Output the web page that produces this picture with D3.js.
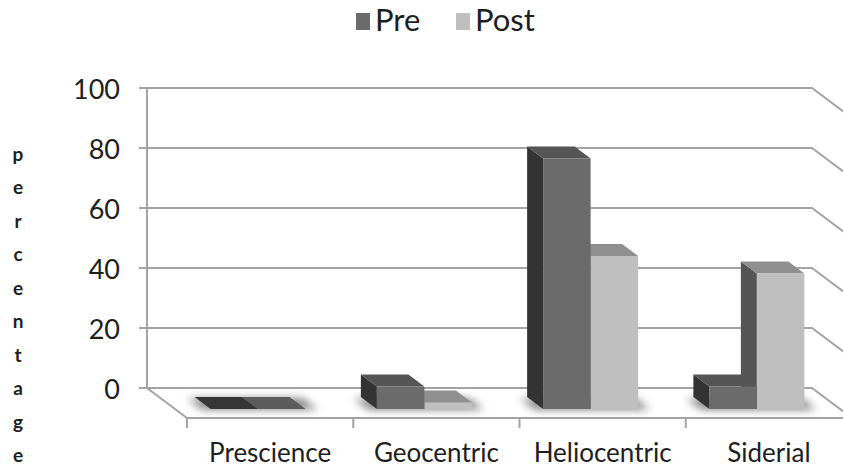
<!DOCTYPE html>
<html>
<head>
<meta charset="utf-8">
<script src="https://cdn.jsdelivr.net/npm/d3@7"></script>
<style>
  html, body { margin: 0; padding: 0; background: #fff; }
  svg { display: block; }
  text { font-family: Lato, "Open Sans", sans-serif; fill: #1e1e1e; }
</style>
</head>
<body>
<svg id="chart" width="843" height="469"></svg>
<script>
// Survey results, percent of respondents per model
const categories = ["Prescience", "Geocentric", "Heliocentric", "Siderial"];
const seriesNames = ["Pre", "Post"];
const preValues = [0, 7.5, 83.5, 7.5];
const postValues = [0, 2.2, 51, 45.2];
const yTicks = [0, 20, 40, 60, 80, 100];
const axisTitle = "percentage";

// Face shades for each series: front, top, left side, and the flat top of zero-height columns
const shades = {
  Pre:  { front: "#6b6b6b", top: "#555555", side: "#333333", flat: "#363636" },
  Post: { front: "#bfbfbf", top: "#8f8f8f", side: "#555555", flat: "#5c5c5c" }
};

const svg = d3.select("#chart");

// Back-wall scales
const x = d3.scaleBand().domain(categories).range([147, 812]).paddingInner(0).paddingOuter(0);
const y = d3.scaleLinear().domain([0, 100]).range([388, 88]);

// Oblique depth: z = 0 at the back wall, z = 1 at the front edge of the floor
const depthDX = 40, depthDY = 30;
const proj = (px, v, z) => [px + depthDX * z, y(v) + depthDY * z];

const gridColor = "#a3a3a3";

// Soft shadow filter for the floor
const defs = svg.append("defs");
defs.append("filter").attr("id", "soft").attr("x", "-30%").attr("y", "-100%")
  .attr("width", "160%").attr("height", "300%")
  .append("feGaussianBlur").attr("stdDeviation", 4);

// Walls: gridlines on the back wall continuing down the right wall
const grid = svg.append("g").attr("fill", "none").attr("stroke", gridColor).attr("stroke-width", 2);
yTicks.forEach(t => {
  const p0 = proj(x.range()[0], t, 0);
  const p1 = proj(x.range()[1], t, 0);
  const p2 = proj(x.range()[1], t, 1);
  grid.append("polyline").attr("points", [p0, p1, p2].map(p => p.join(",")).join(" "));
});

// Floor edges
const floor = svg.append("g").attr("fill", "none").attr("stroke", gridColor).attr("stroke-width", 2);
floor.append("polyline").attr("points", [proj(x.range()[0], 0, 0), proj(x.range()[0], 0, 1), proj(x.range()[1], 0, 1)].map(p => p.join(",")).join(" "));

// Value axis line and ticks
const axisG = svg.append("g");
axisG.append("line")
  .attr("x1", x.range()[0]).attr("x2", x.range()[0])
  .attr("y1", y(100)).attr("y2", y(0))
  .attr("stroke", gridColor).attr("stroke-width", 2);
axisG.selectAll("line.tick").data(yTicks).join("line").attr("class", "tick")
  .attr("x1", x.range()[0] - 8).attr("x2", x.range()[0])
  .attr("y1", d => y(d)).attr("y2", d => y(d))
  .attr("stroke", gridColor).attr("stroke-width", 2);
axisG.selectAll("text").data(yTicks).join("text")
  .attr("x", 120).attr("y", d => y(d))
  .attr("text-anchor", "end").attr("dominant-baseline", "central")
  .attr("font-size", 27).text(d => d);

// Category ticks along the front edge of the floor
const catEdges = categories.map(c => x(c)).concat([x.range()[1]]);
svg.append("g").selectAll("line").data(catEdges).join("line")
  .attr("x1", d => proj(d, 0, 1)[0]).attr("x2", d => proj(d, 0, 1)[0])
  .attr("y1", proj(0, 0, 1)[1]).attr("y2", proj(0, 0, 1)[1] + 10)
  .attr("stroke", gridColor).attr("stroke-width", 2);

// Category labels
svg.append("g").selectAll("text").data(categories).join("text")
  .attr("x", c => proj(x(c) + x.bandwidth() / 2, 0, 1)[0])
  .attr("y", 462)
  .attr("text-anchor", "middle").attr("font-size", 26)
  .text(c => c);

// Column geometry: gap width 150%, gap depth 150%
const barW = x.bandwidth() / (seriesNames.length + 1.5);
const zBack = 0.3, zFront = 0.7;

const rows = [];
categories.forEach((c, i) => {
  [preValues[i], postValues[i]].forEach((v, s) => {
    rows.push({ cat: c, series: seriesNames[s], s, v });
  });
});

const pts = arr => arr.map(p => p.join(",")).join(" ");

// Floor shadows under each column group
const shadowG = svg.append("g").attr("filter", "url(#soft)");
categories.forEach(c => {
  const gx0 = x(c) + 0.75 * barW - 9;
  const gx1 = gx0 + seriesNames.length * barW + 20;
  shadowG.append("polygon")
    .attr("points", pts([proj(gx0, 0, zFront + 0.02), proj(gx1, 0, zFront + 0.02), proj(gx1, 0, zBack + 0.05), proj(gx0, 0, zBack + 0.05)]))
    .attr("fill", "#000").attr("fill-opacity", 0.5);
});

// Columns drawn right to left so nearer left faces are covered correctly
const barsG = svg.append("g");
rows.slice().reverse().forEach(d => {
  const sh = shades[d.series];
  const x0 = x(d.cat) + 0.75 * barW + d.s * barW;
  const x1 = x0 + barW;
  const g = barsG.append("g");
  if (d.v <= 0) {
    g.append("polygon")
      .attr("points", pts([proj(x0, 0, zFront), proj(x1, 0, zFront), proj(x1, 0, zBack), proj(x0, 0, zBack)]))
      .attr("fill", sh.flat);
    return;
  }
  g.append("polygon")
    .attr("points", pts([proj(x0, 0, zFront), proj(x0, d.v, zFront), proj(x0, d.v, zBack), proj(x0, 0, zBack)]))
    .attr("fill", sh.side);
  g.append("polygon")
    .attr("points", pts([proj(x0, d.v, zFront), proj(x1, d.v, zFront), proj(x1, d.v, zBack), proj(x0, d.v, zBack)]))
    .attr("fill", sh.top);
  g.append("polygon")
    .attr("points", pts([proj(x0, 0, zFront), proj(x1, 0, zFront), proj(x1, d.v, zFront), proj(x0, d.v, zFront)]))
    .attr("fill", sh.front);
});

// Vertical axis title, one letter per line
svg.append("g").selectAll("text").data(axisTitle.split("")).join("text")
  .attr("x", 18).attr("y", (d, i) => 153 + i * 33.5)
  .attr("text-anchor", "middle").attr("dominant-baseline", "central")
  .attr("font-size", 19).attr("font-weight", "bold")
  .text(d => d);

// Legend
const legend = svg.append("g");
const legendItems = [
  { name: "Pre", sx: 356, tx: 375 },
  { name: "Post", sx: 456, tx: 475 }
];
legendItems.forEach(it => {
  legend.append("rect").attr("x", it.sx).attr("y", 13).attr("width", 14).attr("height", 17)
    .attr("fill", shades[it.name].front);
  legend.append("text").attr("x", it.tx).attr("y", 31).attr("font-size", 31).text(it.name);
});
</script>
</body>
</html>
